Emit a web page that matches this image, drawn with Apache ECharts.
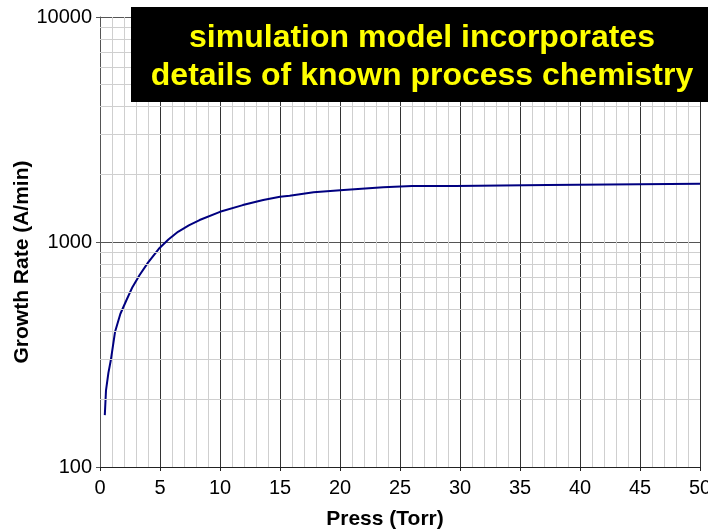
<!DOCTYPE html>
<html>
<head>
<meta charset="utf-8">
<script src="https://cdn.jsdelivr.net/npm/echarts@6/dist/echarts.min.js"></script>
<style>html,body{margin:0;padding:0;background:#fff}#c{width:708px;height:529px}</style>
</head>
<body>
<div id="c"></div>
<script>
// Data
var pressure = [0.4, 0.5, 0.7, 0.9, 1.25, 1.7, 2.2, 2.7, 3.3, 4.0, 4.9, 5.7, 6.5, 7.4, 8.3, 10, 11.9, 13.6, 15, 15.8, 17.8, 20.3, 21.8, 23.6, 26, 29.6, 29.7, 37.3, 37.4, 50];
var growthRate = [170, 219, 262, 298, 398, 480, 551, 630, 713, 810, 933, 1025, 1110, 1185, 1252, 1362, 1459, 1537, 1589, 1606, 1663, 1704, 1725, 1750, 1775, 1775, 1794, 1794, 1815, 1815];
var yMinorLines = [200, 300, 400, 500, 600, 700, 800, 900, 2000, 3000, 4000, 5000, 6000, 7000, 8000, 9000];
var titleLines = ['simulation model incorporates', 'details of known process chemistry'];
var xAxisTitle = 'Press (Torr)';
var yAxisTitle = 'Growth Rate (A/min)';

var font = 'Liberation Sans, Arial, Helvetica, sans-serif';
var chart = echarts.init(document.getElementById('c'));
chart.setOption({
  animation: false,
  backgroundColor: '#ffffff',
  grid: {left: 100, right: 8, top: 17, bottom: 62, containLabel: false, outerBoundsMode: 'none'},
  xAxis: {
    type: 'value', min: 0, max: 50, interval: 5,
    axisLine: {show: true, lineStyle: {color: '#222', width: 1}},
    axisTick: {show: true, length: 4, lineStyle: {color: '#222'}},
    axisLabel: {color: '#000', fontSize: 20, fontFamily: font, margin: 11, showMaxLabel: true},
    splitLine: {show: true, lineStyle: {color: '#333', width: 1}},
    minorTick: {show: false, splitNumber: 5},
    minorSplitLine: {show: true, lineStyle: {color: '#cfcfcf', width: 1}}
  },
  yAxis: {
    type: 'log', logBase: 10, min: 100, max: 10000,
    axisLine: {show: true, lineStyle: {color: '#555', width: 1}},
    axisTick: {show: true, length: 4, lineStyle: {color: '#555'}},
    axisLabel: {color: '#000', fontSize: 20, fontFamily: font, margin: 8, formatter: function (v) { return String(Math.round(v)); }},
    splitLine: {show: true, lineStyle: {color: '#555', width: 1}}
  },
  series: [
    {
      type: 'line', data: [], z: 1, silent: true,
      markLine: {
        silent: true, symbol: 'none', animation: false,
        label: {show: false},
        lineStyle: {color: '#cfcfcf', width: 1, type: 'solid'},
        data: yMinorLines.map(function (v) { return {yAxis: v}; })
      }
    },
    {
      type: 'line', z: 3,
      data: pressure.map(function (p, i) { return [p, growthRate[i]]; }),
      showSymbol: false, symbol: 'none',
      lineStyle: {color: '#000080', width: 2}
    }
  ],
  graphic: [
    {type: 'rect', left: 131, top: 7, shape: {width: 590, height: 95}, style: {fill: '#000'}, z: 10},
    {type: 'text', x: 422, y: 38, z: 11, style: {text: titleLines[0], fill: '#ffff00', font: 'bold 32px ' + font, textAlign: 'center', textVerticalAlign: 'middle'}},
    {type: 'text', x: 422, y: 76, z: 11, style: {text: titleLines[1], fill: '#ffff00', font: 'bold 32px ' + font, textAlign: 'center', textVerticalAlign: 'middle'}},
    {type: 'text', x: 385, y: 519, style: {text: xAxisTitle, fill: '#000', font: 'bold 21px ' + font, textAlign: 'center', textVerticalAlign: 'middle'}},
    {type: 'text', x: 22, y: 262, rotation: Math.PI / 2, style: {text: yAxisTitle, fill: '#000', font: 'bold 21px ' + font, textAlign: 'center', textVerticalAlign: 'middle'}}
  ]
});
</script>
</body>
</html>
